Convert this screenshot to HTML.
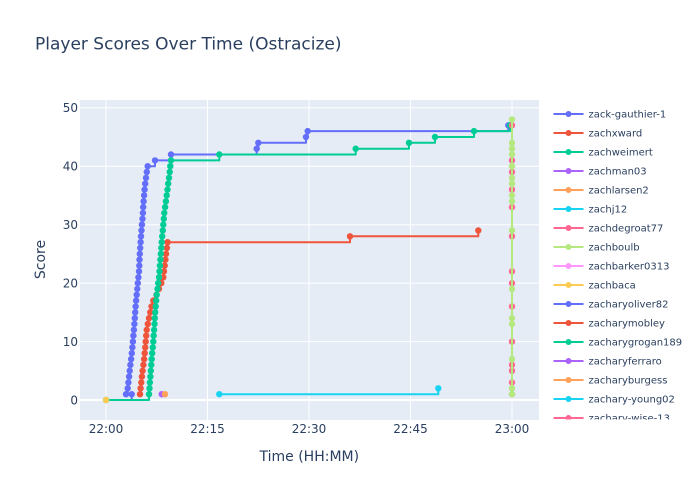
<!DOCTYPE html>
<html>
<head>
<meta charset="utf-8">
<style>
html,body{margin:0;padding:0;background:#fff;}
svg{display:block;font-family:"DejaVu Sans","Liberation Sans",sans-serif;}
</style>
</head>
<body>
<svg width="700" height="500" viewBox="0 0 700 500" xmlns="http://www.w3.org/2000/svg">
<defs>
<clipPath id="plot"><rect x="80" y="100" width="459" height="320"/></clipPath>
<clipPath id="leg"><rect x="545" y="100" width="155" height="319.5"/></clipPath>
<marker id="mb" markerUnits="userSpaceOnUse" markerWidth="8" markerHeight="8" refX="4" refY="4" overflow="visible"><circle cx="4" cy="4" r="3.2" fill="#636efa"/></marker>
<marker id="mr" markerUnits="userSpaceOnUse" markerWidth="8" markerHeight="8" refX="4" refY="4" overflow="visible"><circle cx="4" cy="4" r="3.2" fill="#EF553B"/></marker>
<marker id="mg" markerUnits="userSpaceOnUse" markerWidth="8" markerHeight="8" refX="4" refY="4" overflow="visible"><circle cx="4" cy="4" r="3.2" fill="#00cc96"/></marker>
<marker id="mc" markerUnits="userSpaceOnUse" markerWidth="8" markerHeight="8" refX="4" refY="4" overflow="visible"><circle cx="4" cy="4" r="3.2" fill="#19d3f3"/></marker>
<marker id="mp" markerUnits="userSpaceOnUse" markerWidth="8" markerHeight="8" refX="4" refY="4" overflow="visible"><circle cx="4" cy="4" r="3.2" fill="#FF6692"/></marker>
<marker id="ml" markerUnits="userSpaceOnUse" markerWidth="8" markerHeight="8" refX="4" refY="4" overflow="visible"><circle cx="4" cy="4" r="3.2" fill="#B6E880"/></marker>
</defs>

<rect width="700" height="500" fill="#fff"/>
<rect x="80" y="100" width="459" height="320" fill="#E5ECF6"/>

<!-- grid -->
<g stroke="#fff" stroke-width="1">
<line x1="80" x2="539" y1="341.6" y2="341.6"/>
<line x1="80" x2="539" y1="283.1" y2="283.1"/>
<line x1="80" x2="539" y1="224.7" y2="224.7"/>
<line x1="80" x2="539" y1="166.2" y2="166.2"/>
<line x1="80" x2="539" y1="107.8" y2="107.8"/>
<line x1="106" x2="106" y1="100" y2="420"/>
<line x1="207.5" x2="207.5" y1="100" y2="420"/>
<line x1="309" x2="309" y1="100" y2="420"/>
<line x1="410.5" x2="410.5" y1="100" y2="420"/>
<line x1="512" x2="512" y1="100" y2="420"/>
</g>
<line x1="80" x2="539" y1="400" y2="400" stroke="#fff" stroke-width="2"/>

<!-- traces -->
<g clip-path="url(#plot)" fill="none" stroke-width="2" stroke-linejoin="round">
<!-- zack-gauthier-1 -->
<path stroke="#636efa" d="M126,394.2H131.7V400M127.7,394.2V388.3L128.4,382.5 129.1,376.6 129.7,370.8 130.4,364.9 131.1,359.1 131.8,353.2 132.4,347.4 132.9,341.6 133.4,335.7 133.9,329.9 134.4,324.0 134.8,318.2 135.2,312.3 135.6,306.5 136.1,300.6 136.7,294.8 137.3,288.9 137.8,283.1 138.4,277.3 139.0,271.4 139.3,265.6 139.5,259.7 139.8,253.9 140.2,248.0 140.6,242.2 141.0,236.3 141.5,230.5 141.9,224.7 142.5,218.8 142.9,213.0 143.2,207.1 143.6,201.3 144.1,195.4 144.6,189.6 145.2,183.7 146.0,177.9 146.8,172.0 147.7,166.2H155V160.4H171V154.5H256.7V148.7H258.3V142.8H306V137H307.7V131.1H508.3V125.3"/>
</g>
<polyline fill="none" stroke="none" marker-start="url(#mb)" marker-mid="url(#mb)" marker-end="url(#mb)" points="126,394.2 131.7,394.2 127.7,388.3 128.4,382.5 129.1,376.6 129.7,370.8 130.4,364.9 131.1,359.1 131.8,353.2 132.4,347.4 132.9,341.6 133.4,335.7 133.9,329.9 134.4,324.0 134.8,318.2 135.2,312.3 135.6,306.5 136.1,300.6 136.7,294.8 137.3,288.9 137.8,283.1 138.4,277.3 139.0,271.4 139.3,265.6 139.5,259.7 139.8,253.9 140.2,248.0 140.6,242.2 141.0,236.3 141.5,230.5 141.9,224.7 142.5,218.8 142.9,213.0 143.2,207.1 143.6,201.3 144.1,195.4 144.6,189.6 145.2,183.7 146.0,177.9 146.8,172.0 147.7,166.2 155,160.4 171,154.5 256.7,148.7 258.3,142.8 306,137 307.7,131.1 508.3,125.3"/>

<!-- zachxward -->
<g clip-path="url(#plot)" fill="none" stroke-width="2" stroke-linejoin="round">
<path stroke="#EF553B" d="M140.0,394.2L140.6,388.3 141.3,382.5 141.9,376.6 142.6,370.8 143.4,364.9 144.1,359.1 144.7,353.2 145.2,347.4 145.7,341.6 146.2,335.7 146.7,329.9 147.8,324.0 149.0,318.2 150.2,312.3 151.5,306.5 153.3,300.6 156.5,294.8 159.0,288.9 161.3,283.1 163.3,277.3 164.0,271.4 164.7,265.6 165.4,259.7 166.1,253.9 166.9,248.0 167.6,242.2H350V236.3H478.3V230.5"/>
</g>
<polyline fill="none" stroke="none" marker-start="url(#mr)" marker-mid="url(#mr)" marker-end="url(#mr)" points="140.0,394.2 140.6,388.3 141.3,382.5 141.9,376.6 142.6,370.8 143.4,364.9 144.1,359.1 144.7,353.2 145.2,347.4 145.7,341.6 146.2,335.7 146.7,329.9 147.8,324.0 149.0,318.2 150.2,312.3 151.5,306.5 153.3,300.6 156.5,294.8 159.0,288.9 161.3,283.1 163.3,277.3 164.0,271.4 164.7,265.6 165.4,259.7 166.1,253.9 166.9,248.0 167.6,242.2 350,236.3 478.3,230.5"/>

<!-- zachweimert -->
<g clip-path="url(#plot)" fill="none" stroke-width="2" stroke-linejoin="round">
<path stroke="#00cc96" d="M106,400H149V394.2L149.5,388.3 149.9,382.5 150.4,376.6 150.8,370.8 151.3,364.9 151.7,359.1 152.2,353.2 152.8,347.4 153.3,341.6 153.7,335.7 154.1,329.9 154.5,324.0 154.8,318.2 155.2,312.3 155.7,306.5 156.2,300.6 156.7,294.8 157.5,288.9 158.2,283.1 159.0,277.3 159.5,271.4 159.9,265.6 160.4,259.7 160.8,253.9 161.3,248.0 161.7,242.2 162.2,236.3 162.8,230.5 163.3,224.7 163.8,218.8 164.3,213.0 165.1,207.1 165.9,201.3 166.7,195.4 167.5,189.6 168.2,183.7 169.0,177.9 169.7,172.0 170.3,166.2 171.0,160.4H219.3V154.5H355.7V148.7H409V142.8H435V137H474V131.1H510V125.3"/>
</g>
<polyline fill="none" stroke="none" marker-start="url(#mg)" marker-mid="url(#mg)" marker-end="url(#mg)" points="106,400 149.0,394.2 149.5,388.3 149.9,382.5 150.4,376.6 150.8,370.8 151.3,364.9 151.7,359.1 152.2,353.2 152.8,347.4 153.3,341.6 153.7,335.7 154.1,329.9 154.5,324.0 154.8,318.2 155.2,312.3 155.7,306.5 156.2,300.6 156.7,294.8 157.5,288.9 158.2,283.1 159.0,277.3 159.5,271.4 159.9,265.6 160.4,259.7 160.8,253.9 161.3,248.0 161.7,242.2 162.2,236.3 162.8,230.5 163.3,224.7 163.8,218.8 164.3,213.0 165.1,207.1 165.9,201.3 166.7,195.4 167.5,189.6 168.2,183.7 169.0,177.9 169.7,172.0 170.3,166.2 171.0,160.4 219.3,154.5 355.7,148.7 409,142.8 435,137 474,131.1 510,125.3"/>

<!-- zachman03, zachlarsen2 -->
<circle cx="161.7" cy="394.2" r="3.2" fill="#ab63fa"/>
<circle cx="165" cy="394.2" r="3.2" fill="#FFA15A"/>

<!-- zachj12 -->
<path clip-path="url(#plot)" fill="none" stroke="#19d3f3" stroke-width="2" d="M219.3,394.2H438.3V388.3"/>
<circle cx="219.3" cy="394.2" r="3.2" fill="#19d3f3"/>
<circle cx="438.3" cy="388.3" r="3.2" fill="#19d3f3"/>

<!-- zachdegroat77 -->
<path fill="none" stroke="#FF6692" stroke-width="2" d="M512,394.2V125.3"/>
<polyline fill="none" stroke="none" marker-start="url(#mp)" marker-mid="url(#mp)" marker-end="url(#mp)" points="512,125.3 512,160.4 512,172.0 512,189.6 512,207.1 512,236.3 512,271.4 512,283.1 512,306.5 512,341.6 512,364.9 512,370.8 512,382.5 512,394.2"/>

<!-- zachboulb -->
<path fill="none" stroke="#B6E880" stroke-width="2" d="M512,394.2V119.4"/>
<polyline fill="none" stroke="none" marker-start="url(#ml)" marker-mid="url(#ml)" marker-end="url(#ml)" points="512,119.4 512,142.8 512,148.7 512,154.5 512,166.2 512,177.9 512,183.7 512,195.4 512,201.3 512,230.5 512,288.9 512,318.2 512,324.0 512,359.1 512,388.3 512,394.2"/>

<!-- zachbaca -->
<circle cx="106" cy="400" r="3.2" fill="#FECB52"/>

<!-- axis labels -->
<g fill="#2a3f5f" font-size="12">
<text x="78" y="404.3" text-anchor="end">0</text>
<text x="78" y="345.9" text-anchor="end">10</text>
<text x="78" y="287.4" text-anchor="end">20</text>
<text x="78" y="229" text-anchor="end">30</text>
<text x="78" y="170.5" text-anchor="end">40</text>
<text x="78" y="112.1" text-anchor="end">50</text>
<text x="106" y="433" text-anchor="middle">22:00</text>
<text x="207.5" y="433" text-anchor="middle">22:15</text>
<text x="309" y="433" text-anchor="middle">22:30</text>
<text x="410.5" y="433" text-anchor="middle">22:45</text>
<text x="512" y="433" text-anchor="middle">23:00</text>
</g>
<text x="309.3" y="461" text-anchor="middle" font-size="14" fill="#2a3f5f">Time (HH:MM)</text>
<text transform="translate(45,259.5) rotate(-90)" text-anchor="middle" font-size="14" fill="#2a3f5f">Score</text>
<text x="35" y="49.5" font-size="17" fill="#2a3f5f">Player Scores Over Time (Ostracize)</text>

<!-- legend -->
<g clip-path="url(#leg)" font-size="10" fill="#2a3f5f">
<g stroke-width="2">
<line x1="553.5" x2="583.5" y1="114" y2="114" stroke="#636efa"/><circle cx="568.5" cy="114" r="3" fill="#636efa"/>
<line x1="553.5" x2="583.5" y1="133" y2="133" stroke="#EF553B"/><circle cx="568.5" cy="133" r="3" fill="#EF553B"/>
<line x1="553.5" x2="583.5" y1="152" y2="152" stroke="#00cc96"/><circle cx="568.5" cy="152" r="3" fill="#00cc96"/>
<line x1="553.5" x2="583.5" y1="171" y2="171" stroke="#ab63fa"/><circle cx="568.5" cy="171" r="3" fill="#ab63fa"/>
<line x1="553.5" x2="583.5" y1="190" y2="190" stroke="#FFA15A"/><circle cx="568.5" cy="190" r="3" fill="#FFA15A"/>
<line x1="553.5" x2="583.5" y1="209" y2="209" stroke="#19d3f3"/><circle cx="568.5" cy="209" r="3" fill="#19d3f3"/>
<line x1="553.5" x2="583.5" y1="228" y2="228" stroke="#FF6692"/><circle cx="568.5" cy="228" r="3" fill="#FF6692"/>
<line x1="553.5" x2="583.5" y1="247" y2="247" stroke="#B6E880"/><circle cx="568.5" cy="247" r="3" fill="#B6E880"/>
<line x1="553.5" x2="583.5" y1="266" y2="266" stroke="#FF97FF"/><circle cx="568.5" cy="266" r="3" fill="#FF97FF"/>
<line x1="553.5" x2="583.5" y1="285" y2="285" stroke="#FECB52"/><circle cx="568.5" cy="285" r="3" fill="#FECB52"/>
<line x1="553.5" x2="583.5" y1="304" y2="304" stroke="#636efa"/><circle cx="568.5" cy="304" r="3" fill="#636efa"/>
<line x1="553.5" x2="583.5" y1="323" y2="323" stroke="#EF553B"/><circle cx="568.5" cy="323" r="3" fill="#EF553B"/>
<line x1="553.5" x2="583.5" y1="342" y2="342" stroke="#00cc96"/><circle cx="568.5" cy="342" r="3" fill="#00cc96"/>
<line x1="553.5" x2="583.5" y1="361" y2="361" stroke="#ab63fa"/><circle cx="568.5" cy="361" r="3" fill="#ab63fa"/>
<line x1="553.5" x2="583.5" y1="380" y2="380" stroke="#FFA15A"/><circle cx="568.5" cy="380" r="3" fill="#FFA15A"/>
<line x1="553.5" x2="583.5" y1="399" y2="399" stroke="#19d3f3"/><circle cx="568.5" cy="399" r="3" fill="#19d3f3"/>
<line x1="553.5" x2="583.5" y1="418" y2="418" stroke="#FF6692"/><circle cx="568.5" cy="418" r="3" fill="#FF6692"/>
</g>
<text x="588.5" y="117.6">zack-gauthier-1</text>
<text x="588.5" y="136.6">zachxward</text>
<text x="588.5" y="155.6">zachweimert</text>
<text x="588.5" y="174.6">zachman03</text>
<text x="588.5" y="193.6">zachlarsen2</text>
<text x="588.5" y="212.6">zachj12</text>
<text x="588.5" y="231.6">zachdegroat77</text>
<text x="588.5" y="250.6">zachboulb</text>
<text x="588.5" y="269.6">zachbarker0313</text>
<text x="588.5" y="288.6">zachbaca</text>
<text x="588.5" y="307.6">zacharyoliver82</text>
<text x="588.5" y="326.6">zacharymobley</text>
<text x="588.5" y="345.6">zacharygrogan189</text>
<text x="588.5" y="364.6">zacharyferraro</text>
<text x="588.5" y="383.6">zacharyburgess</text>
<text x="588.5" y="402.6">zachary-young02</text>
<text x="588.5" y="421.6">zachary-wise-13</text>
</g>
</svg>
</body>
</html>
